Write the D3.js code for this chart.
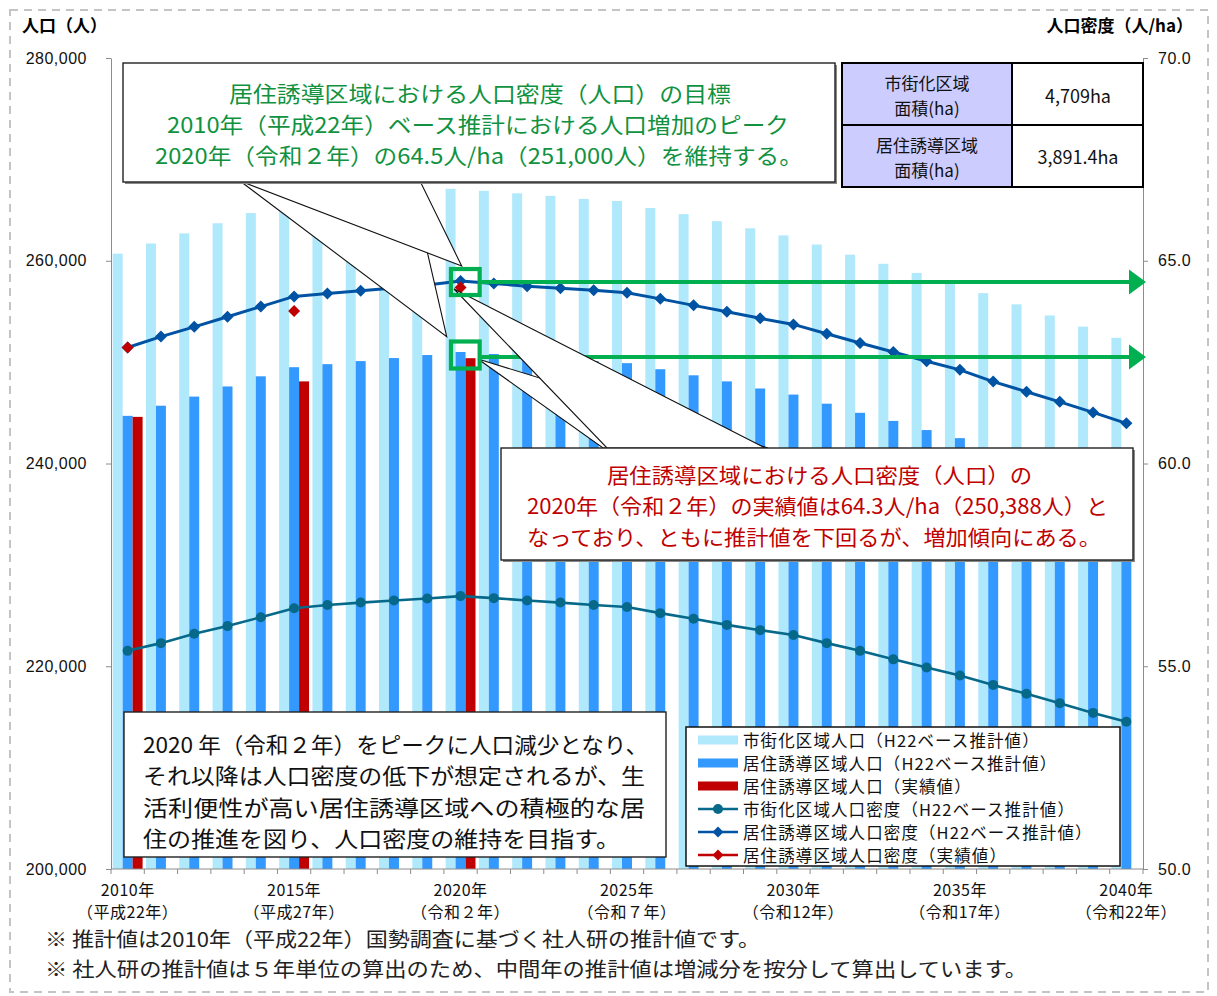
<!DOCTYPE html>
<html lang="ja">
<head>
<meta charset="utf-8">
<script src="https://cdn.jsdelivr.net/npm/d3@7"></script>
<style>
  body { margin: 0; background: #fff; }
  svg { display: block; font-family: "Noto Sans CJK JP", "Noto Sans", sans-serif; }
  .axis path, .axis line { stroke: #8c8c8c; }
  .axis text { font-size: 16px; fill: #111; letter-spacing: 0.5px; }
</style>
</head>
<body>
<div id="chart"></div>
<script>
// categories
const years = [2010, 2011, 2012, 2013, 2014, 2015, 2016, 2017, 2018, 2019, 2020,
  2021, 2022, 2023, 2024, 2025, 2026, 2027, 2028, 2029, 2030,
  2031, 2032, 2033, 2034, 2035, 2036, 2037, 2038, 2039, 2040];
const labelYears = [2010, 2015, 2020, 2025, 2030, 2035, 2040];
const eraLabels = ['（平成22年）', '（平成27年）', '（令和２年）', '（令和７年）', '（令和12年）', '（令和17年）', '（令和22年）'];

// 市街化区域人口（H22ベース推計値）
const shigaiPop = [260700, 261700, 262700, 263700, 264700, 265700, 266000, 266300, 266600, 266800, 267100,
  266900, 266650, 266400, 266100, 265900, 265200, 264600, 263900, 263200, 262500,
  261600, 260600, 259700, 258800, 257800, 256800, 255700, 254600, 253500, 252400];
// 居住誘導区域人口（H22ベース推計値）
const yudoPop = [244700, 245700, 246600, 247600, 248600, 249500, 249800, 250100, 250400, 250700, 251000,
  250800, 250500, 250300, 250100, 249900, 249300, 248700, 248100, 247400, 246800,
  245900, 245000, 244200, 243300, 242500, 241300, 240400, 239400, 238400, 237300];
// 居住誘導区域人口（実績値）
const actualYears = [2010, 2015, 2020];
const actualPop = [244600, 248100, 250388];

// 市街化区域人口密度（H22ベース推計値）
const shigaiDensity = [55.38, 55.57, 55.80, 55.99, 56.21, 56.43, 56.51, 56.57, 56.62, 56.67, 56.73,
  56.68, 56.62, 56.57, 56.51, 56.46, 56.31, 56.17, 56.02, 55.89, 55.77,
  55.57, 55.38, 55.17, 54.97, 54.77, 54.54, 54.32, 54.09, 53.85, 53.63];
// 居住誘導区域人口密度（H22ベース推計値）
const yudoDensity = [62.86, 63.13, 63.37, 63.62, 63.87, 64.12, 64.19, 64.26, 64.33, 64.40, 64.50,
  64.44, 64.37, 64.32, 64.27, 64.21, 64.06, 63.90, 63.74, 63.58, 63.43,
  63.20, 62.97, 62.75, 62.52, 62.31, 62.02, 61.77, 61.52, 61.26, 60.99];
// 居住誘導区域人口密度（実績値）
const actualDensity = [62.86, 63.76, 64.34];

const popTicks = [200000, 220000, 240000, 260000, 280000];
const densityTicks = [50, 55, 60, 65, 70];

const legendNames = [
  '市街化区域人口（H22ベース推計値）',
  '居住誘導区域人口（H22ベース推計値）',
  '居住誘導区域人口（実績値）',
  '市街化区域人口密度（H22ベース推計値）',
  '居住誘導区域人口密度（H22ベース推計値）',
  '居住誘導区域人口密度（実績値）'
];

const colors = {
  shigai: '#b0e8fc',
  yudo: '#3399ff',
  actual: '#c00000',
  shigaiLine: '#07698a',
  yudoLine: '#0052a3',
  green: '#00b050',
  greenText: '#119240',
  redText: '#c00000'
};

class DensityChart {
  constructor(_config) {
    this.config = {
      parentElement: _config.parentElement,
      containerWidth: _config.containerWidth || 1217,
      containerHeight: _config.containerHeight || 996,
      margin: _config.margin || { top: 58, right: 74, bottom: 127, left: 111 }
    };
    this.initVis();
  }

  initVis() {
    let vis = this;
    const m = vis.config.margin;
    vis.width = vis.config.containerWidth - m.left - m.right;
    vis.height = vis.config.containerHeight - m.top - m.bottom;

    vis.svg = d3.select(vis.config.parentElement)
      .append('svg')
      .attr('width', vis.config.containerWidth)
      .attr('height', vis.config.containerHeight);

    vis.chart = vis.svg.append('g')
      .attr('transform', `translate(${m.left},${m.top})`);

    vis.x = d3.scaleBand().domain(years).range([0, vis.width]);
    vis.xSub = d3.scaleBand()
      .domain(['shigai', 'yudo', 'actual'])
      .range([0, vis.x.bandwidth()])
      .paddingOuter(0.17);
    vis.yPop = d3.scaleLinear().domain([200000, 280000]).range([vis.height, 0]);
    vis.yDen = d3.scaleLinear().domain([50, 70]).range([vis.height, 0]);

    vis.renderVis();
  }

  renderVis() {
    let vis = this;
    const bw = vis.x.bandwidth();
    const cx = (yr) => vis.x(yr) + bw / 2;

    // outer dashed frame
    vis.svg.append('rect')
      .attr('x', 10).attr('y', 10)
      .attr('width', 1198).attr('height', 982)
      .attr('fill', 'none')
      .attr('stroke', '#c4c4c4')
      .attr('stroke-width', 2)
      .attr('stroke-dasharray', '8,6');

    // bars
    const barSeries = [
      { key: 'shigai', data: years.map((y, i) => ({ year: y, value: shigaiPop[i] })) },
      { key: 'yudo', data: years.map((y, i) => ({ year: y, value: yudoPop[i] })) },
      { key: 'actual', data: actualYears.map((y, i) => ({ year: y, value: actualPop[i] })) }
    ];
    barSeries.forEach((s) => {
      vis.chart.selectAll(`.bar-${s.key}`)
        .data(s.data)
        .join('rect')
        .attr('class', `bar-${s.key}`)
        .attr('x', (d) => vis.x(d.year) + vis.xSub(s.key))
        .attr('width', vis.xSub.bandwidth())
        .attr('y', (d) => vis.yPop(d.value))
        .attr('height', (d) => vis.height - vis.yPop(d.value))
        .attr('fill', colors[s.key]);
    });

    // axes
    const leftAxis = d3.axisLeft(vis.yPop)
      .tickValues(popTicks)
      .tickFormat(d3.format(','))
      .tickSize(5).tickSizeOuter(0)
      .tickPadding(19);
    vis.chart.append('g').attr('class', 'axis').call(leftAxis);

    const rightAxis = d3.axisRight(vis.yDen)
      .tickValues(densityTicks)
      .tickFormat(d3.format('.1f'))
      .tickSize(5).tickSizeOuter(0)
      .tickPadding(10);
    vis.chart.append('g').attr('class', 'axis')
      .attr('transform', `translate(${vis.width},0)`)
      .call(rightAxis)
      .select('.domain').attr('stroke', '#b0b0b0');

    const bottom = vis.chart.append('g').attr('class', 'axis')
      .attr('transform', `translate(0,${vis.height})`);
    bottom.append('line')
      .attr('x1', 0).attr('x2', vis.width)
      .attr('stroke', '#8c8c8c');
    bottom.selectAll('.xtick')
      .data(years.concat(['end']))
      .join('line')
      .attr('class', 'xtick')
      .attr('x1', (d) => (d === 'end' ? vis.width : vis.x(d)))
      .attr('x2', (d) => (d === 'end' ? vis.width : vis.x(d)))
      .attr('y1', 0).attr('y2', 5)
      .attr('stroke', '#8c8c8c');
    const xl = bottom.selectAll('.xlabel')
      .data(labelYears)
      .join('text')
      .attr('class', 'xlabel')
      .attr('text-anchor', 'middle')
      .attr('font-size', 15);
    xl.append('tspan').attr('x', (d) => cx(d)).attr('y', 27).text((d) => `${d}年`);
    xl.append('tspan').attr('x', (d) => cx(d)).attr('y', 49).text((d, i) => eraLabels[i]);

    // density lines
    const lineGen = () => d3.line()
      .x((d) => cx(d.year))
      .y((d) => vis.yDen(d.value));
    const shigaiLineData = years.map((y, i) => ({ year: y, value: shigaiDensity[i] }));
    const yudoLineData = years.map((y, i) => ({ year: y, value: yudoDensity[i] }));
    const actualDenData = actualYears.map((y, i) => ({ year: y, value: actualDensity[i] }));

    vis.chart.append('path')
      .datum(shigaiLineData)
      .attr('d', lineGen())
      .attr('fill', 'none')
      .attr('stroke', colors.shigaiLine)
      .attr('stroke-width', 2.6);
    vis.chart.selectAll('.pt-shigai')
      .data(shigaiLineData)
      .join('circle')
      .attr('class', 'pt-shigai')
      .attr('cx', (d) => cx(d.year))
      .attr('cy', (d) => vis.yDen(d.value))
      .attr('r', 5)
      .attr('fill', colors.shigaiLine);

    const diamond = 'M0,-6L6,0L0,6L-6,0Z';
    vis.chart.append('path')
      .datum(yudoLineData)
      .attr('d', lineGen())
      .attr('fill', 'none')
      .attr('stroke', colors.yudoLine)
      .attr('stroke-width', 3);
    vis.chart.selectAll('.pt-yudo')
      .data(yudoLineData)
      .join('path')
      .attr('class', 'pt-yudo')
      .attr('d', diamond)
      .attr('transform', (d) => `translate(${cx(d.year)},${vis.yDen(d.value)})`)
      .attr('fill', colors.yudoLine);
    vis.chart.selectAll('.pt-actual')
      .data(actualDenData)
      .join('path')
      .attr('class', 'pt-actual')
      .attr('d', diamond)
      .attr('transform', (d) => `translate(${cx(d.year)},${vis.yDen(d.value)})`)
      .attr('fill', colors.actual);

    vis.annotate();
  }

  annotate() {
    let vis = this;
    const m = vis.config.margin;
    const svg = vis.svg;
    const sqX = m.left + vis.x(2020) + vis.x.bandwidth() / 2 + 4.7;
    const upY = m.top + vis.yDen(64.5) + 1;
    const lowY = m.top + vis.yPop(251000) + 3;

    // green targets + arrows
    [upY, lowY].forEach((yy, i) => {
      const ay = i === 0 ? yy : yy + 2;
      svg.append('line')
        .attr('x1', sqX + 16).attr('x2', 1131)
        .attr('y1', ay).attr('y2', ay)
        .attr('stroke', colors.green).attr('stroke-width', 4);
      svg.append('path')
        .attr('d', `M1129,${ay - 12.5}L1146,${ay}L1129,${ay + 12.5}Z`)
        .attr('fill', colors.green);
    });

    const poly = (pts) => 'M' + pts.map((p) => p.join(',')).join('L') + 'Z';
    const wedge = (pts) => svg.append('path')
      .attr('d', poly(pts))
      .attr('fill', '#fff')
      .attr('stroke', '#111')
      .attr('stroke-width', 1.1);

    // green callout
    wedge([[240, 181], [411, 181], [446.7, 336.7]]);
    wedge([[240, 181], [420, 181], [461.7, 266]]);
    svg.append('rect').attr('x', 125).attr('y', 65).attr('width', 712).attr('height', 119).attr('fill', '#8a8a8a');
    svg.append('rect').attr('x', 123).attr('y', 63).attr('width', 712).attr('height', 119)
      .attr('fill', '#fff').attr('stroke', '#222').attr('stroke-width', 1.4);

    // red callout
    wedge([[603, 448], [768, 448], [478, 359]]);
    wedge([[607, 448], [765, 448], [454, 289]]);
    svg.append('rect').attr('x', 503).attr('y', 450).attr('width', 632).attr('height', 112).attr('fill', '#8a8a8a');
    svg.append('rect').attr('x', 501).attr('y', 448).attr('width', 632).attr('height', 112)
      .attr('fill', '#fff').attr('stroke', '#222').attr('stroke-width', 1.4);

    // green squares
    [upY, lowY].forEach((yy, i) => {
      const h = i === 0 ? 26 : 27;
      svg.append('rect')
        .attr('x', sqX - 14.3).attr('y', yy - h / 2)
        .attr('width', 28.7).attr('height', h)
        .attr('fill', 'none')
        .attr('stroke', colors.green).attr('stroke-width', 4.2);
    });

    const textLines = (lines, color, size) => {
      lines.forEach((l) => {
        svg.append('text')
          .attr('x', l.x).attr('y', l.y)
          .attr('dominant-baseline', 'central')
          .attr('textLength', l.w)
          .attr('lengthAdjust', 'spacingAndGlyphs')
          .attr('font-size', size)
          .attr('fill', color)
          .text(l.t);
      });
    };

    textLines([
      { t: '居住誘導区域における人口密度（人口）の目標', x: 229, y: 92, w: 502 },
      { t: '2010年（平成22年）ベース推計における人口増加のピーク', x: 167, y: 123, w: 622 },
      { t: '2020年（令和２年）の64.5人/ha（251,000人）を維持する。', x: 155, y: 154, w: 648 }
    ], colors.greenText, 22);

    textLines([
      { t: '居住誘導区域における人口密度（人口）の', x: 607, y: 474, w: 425 },
      { t: '2020年（令和２年）の実績値は64.3人/ha（250,388人）と', x: 527, y: 505, w: 581 },
      { t: 'なっており、ともに推計値を下回るが、増加傾向にある。', x: 527, y: 536, w: 574 }
    ], colors.redText, 21);

    // comment box
    svg.append('rect').attr('x', 124).attr('y', 712).attr('width', 542).attr('height', 145)
      .attr('fill', '#fff').attr('stroke', '#222').attr('stroke-width', 1.4);
    textLines([
      { t: '2020 年（令和２年）をピークに人口減少となり、', x: 143, y: 743, w: 505 },
      { t: 'それ以降は人口密度の低下が想定されるが、生', x: 143, y: 774, w: 502 },
      { t: '活利便性が高い居住誘導区域への積極的な居', x: 143, y: 806, w: 502 },
      { t: '住の推進を図り、人口密度の維持を目指す。', x: 143, y: 837, w: 477 }
    ], '#111', 22);

    // area table
    const tbl = svg.append('g');
    tbl.append('rect').attr('x', 842).attr('y', 63).attr('width', 170).attr('height', 124).attr('fill', '#ccccff');
    tbl.append('rect').attr('x', 1012).attr('y', 63).attr('width', 131).attr('height', 124).attr('fill', '#fff');
    tbl.append('rect').attr('x', 842).attr('y', 63).attr('width', 301).attr('height', 124)
      .attr('fill', 'none').attr('stroke', '#000').attr('stroke-width', 2);
    tbl.append('line').attr('x1', 842).attr('x2', 1143).attr('y1', 125).attr('y2', 125).attr('stroke', '#000').attr('stroke-width', 2);
    tbl.append('line').attr('x1', 1012).attr('x2', 1012).attr('y1', 63).attr('y2', 187).attr('stroke', '#000').attr('stroke-width', 2);
    const cell = (t, x, y, size) => tbl.append('text')
      .attr('x', x).attr('y', y)
      .attr('text-anchor', 'middle')
      .attr('dominant-baseline', 'central')
      .attr('font-size', size)
      .attr('fill', '#111')
      .text(t);
    cell('市街化区域', 927, 82, 17);
    cell('面積(ha)', 927, 107, 17);
    cell('4,709ha', 1078, 95, 18);
    cell('居住誘導区域', 927, 144, 17);
    cell('面積(ha)', 927, 169, 17);
    cell('3,891.4ha', 1078, 156, 18);

    // legend
    const lg = svg.append('g');
    lg.append('rect').attr('x', 686).attr('y', 727).attr('width', 434).attr('height', 139)
      .attr('fill', '#fff').attr('stroke', '#111').attr('stroke-width', 1.5);
    const lgColors = [colors.shigai, colors.yudo, colors.actual, colors.shigaiLine, colors.yudoLine, colors.actual];
    const rows = lg.selectAll('.lg-row')
      .data(legendNames)
      .join('g')
      .attr('class', 'lg-row')
      .attr('transform', (d, i) => `translate(698,${740 + i * 23})`);
    rows.each(function (d, i) {
      const g = d3.select(this);
      if (i < 3) {
        g.append('rect').attr('x', 0).attr('y', -4.5).attr('width', 40).attr('height', 9).attr('fill', lgColors[i]);
      } else {
        g.append('line').attr('x1', 0).attr('x2', 40).attr('stroke', lgColors[i]).attr('stroke-width', 2.6);
        if (i === 3) g.append('circle').attr('cx', 20).attr('r', 5).attr('fill', lgColors[i]);
        else g.append('path').attr('d', 'M20,-5.5L25.5,0L20,5.5L14.5,0Z').attr('fill', lgColors[i]);
      }
      g.append('text')
        .attr('x', 45)
        .attr('dominant-baseline', 'central')
        .attr('font-size', 16.5)
        .attr('letter-spacing', 1.1)
        .attr('fill', '#111')
        .text(d);
    });

    // axis titles
    svg.append('text').attr('x', 22).attr('y', 24)
      .attr('dominant-baseline', 'central')
      .attr('font-size', 17).attr('font-weight', 'bold')
      .text('人口（人）');
    svg.append('text').attr('x', 1193).attr('y', 24)
      .attr('dominant-baseline', 'central')
      .attr('text-anchor', 'end')
      .attr('font-size', 17).attr('font-weight', 'bold')
      .text('人口密度（人/ha）');

    // footnotes
    textLines([
      { t: '※ 推計値は2010年（平成22年）国勢調査に基づく社人研の推計値です。', x: 45, y: 938, w: 715 },
      { t: '※ 社人研の推計値は５年単位の算出のため、中間年の推計値は増減分を按分して算出しています。', x: 45, y: 968, w: 982 }
    ], '#222', 20);
  }
}

new DensityChart({ parentElement: '#chart' });
</script>
</body>
</html>
